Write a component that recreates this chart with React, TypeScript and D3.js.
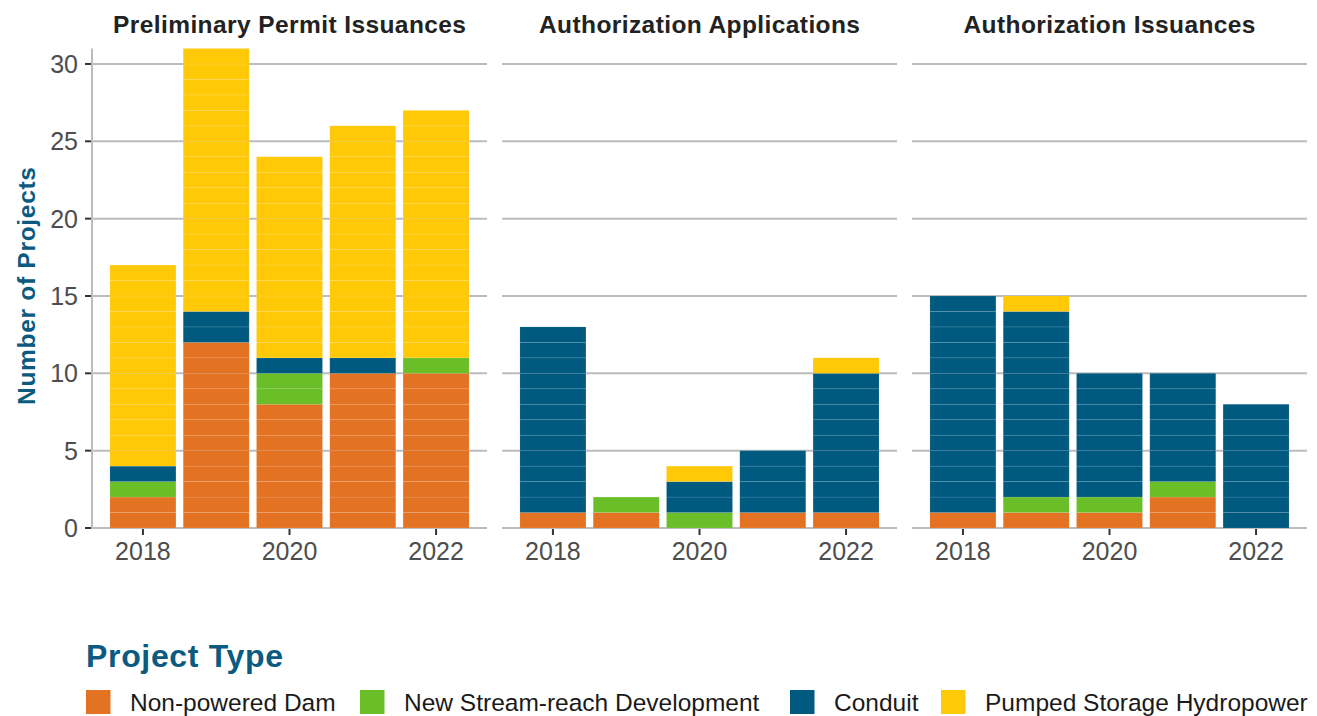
import React from "react";
import * as d3 from "d3";

// ---- data ----
const years = [2018, 2019, 2020, 2021, 2022];
const facets = ["Preliminary Permit Issuances", "Authorization Applications", "Authorization Issuances"];
const projectTypes = ["Non-powered Dam", "New Stream-reach Development", "Conduit", "Pumped Storage Hydropower"];
const typeColors = ["#E37222", "#6ABE28", "#005A80", "#FFC907"];
// values per facet, per year
const nonPoweredDam = [[2, 12, 8, 10, 10], [1, 1, 0, 1, 1], [1, 1, 1, 2, 0]];
const newStreamReach = [[1, 0, 2, 0, 1], [0, 1, 1, 0, 0], [0, 1, 1, 1, 0]];
const conduit = [[1, 2, 1, 1, 0], [12, 0, 2, 4, 9], [14, 12, 8, 7, 8]];
const pumpedStorage = [[13, 17, 13, 15, 16], [0, 0, 1, 0, 1], [0, 1, 0, 0, 0]];
const yTicks = [0, 5, 10, 15, 20, 25, 30];
const xTicks = [2018, 2020, 2022];
const yMax = 31;

// ---- layout ----
const W = 1317, H = 716;
const panelLefts = [92, 502, 912];
const panelW = 395;
const plotTop = 48.5, plotBottom = 528;
const legendKeyX = [86, 360, 790, 941];
const FONT = "'Liberation Sans', Arial, Helvetica, sans-serif";

export default function App() {
  const y = d3.scaleLinear().domain([0, yMax]).range([plotBottom, plotTop]);
  const seriesArrays = [nonPoweredDam, newStreamReach, conduit, pumpedStorage];

  return (
    <svg width={W} height={H} style={{ position: "absolute", left: 0, top: 0, background: "#fff" }} fontFamily={FONT}>
      {facets.map((facet, fi) => {
        const x0 = panelLefts[fi];
        const x = d3.scaleLinear().domain([2017.55 - 0.245, 2022.45 + 0.245]).range([x0, x0 + panelW]);
        const rows = years.map((yr, yi) => {
          const r: any = { year: yr };
          projectTypes.forEach((t, ti) => (r[t] = seriesArrays[ti][fi][yi]));
          return r;
        });
        const stacked = d3.stack<any>().keys(projectTypes)(rows);
        const bw = x(2018.45) - x(2017.55);
        const titleLens = [353, 321, 292];
        return (
          <g key={facet}>
            <text x={x0 + panelW / 2} y={33} textAnchor="middle" fontWeight="bold" fontSize={24.5}
              fill="#222" textLength={titleLens[fi]} lengthAdjust="spacing">{facet}</text>
            {yTicks.map((t) => (
              <line key={t} x1={x0} x2={x0 + panelW} y1={y(t)} y2={y(t)} stroke="#bcbcbc" strokeWidth={2} />
            ))}
            {stacked.map((s, si) => (
              <g key={s.key} fill={typeColors[si]}>
                {s.map((d, di) => {
                  const units = [];
                  for (let k = d[0]; k < d[1]; k++) {
                    units.push(
                      <rect key={k} x={x(years[di]) - bw / 2} width={bw} y={y(k + 1)} height={y(k) - y(k + 1)}
                        stroke="rgba(255,255,255,0.11)" strokeWidth={0.8} />
                    );
                  }
                  return <g key={di}>{units}</g>;
                })}
              </g>
            ))}
            {xTicks.map((t) => (
              <g key={t}>
                <line x1={x(t)} x2={x(t)} y1={plotBottom + 1} y2={plotBottom + 7} stroke="#333" strokeWidth={2} />
                <text x={x(t)} y={560} textAnchor="middle" fontSize={25} fill="#4d4d4d">{t}</text>
              </g>
            ))}
            {fi === 0 && (
              <g>
                <line x1={x0} x2={x0} y1={plotTop} y2={plotBottom + 1} stroke="#bcbcbc" strokeWidth={2} />
                {yTicks.map((t) => (
                  <g key={t}>
                    <line x1={x0 - 7} x2={x0 - 1} y1={y(t)} y2={y(t)} stroke="#333" strokeWidth={2} />
                    <text x={78} y={y(t)} dy="0.36em" textAnchor="end" fontSize={25} fill="#4d4d4d">{t}</text>
                  </g>
                ))}
              </g>
            )}
          </g>
        );
      })}
      <text transform={`translate(35,286) rotate(-90)`} textAnchor="middle" fontWeight="bold" fontSize={24.5}
        fill="#0B5A80" textLength={238} lengthAdjust="spacing">Number of Projects</text>
      <text x={86} y={667} fontWeight="bold" fontSize={32} fill="#0B5A80" textLength={197} lengthAdjust="spacing">Project Type</text>
      {projectTypes.map((t, i) => (
        <g key={t}>
          <rect x={legendKeyX[i]} y={690} width={24.5} height={24} fill={typeColors[i]} />
          <text x={legendKeyX[i] + 44} y={711} fontSize={24.5} fill="#1a1a1a">{t}</text>
        </g>
      ))}
    </svg>
  );
}
